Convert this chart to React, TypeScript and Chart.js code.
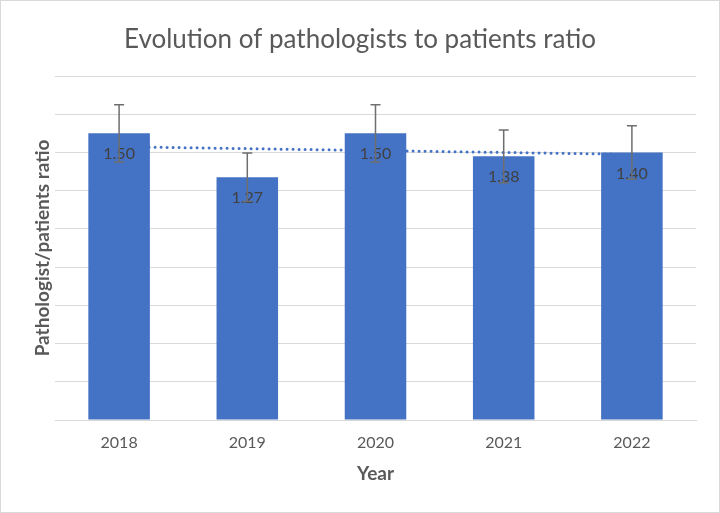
import React, { useEffect, useRef } from "react";
import { Chart, registerables } from "chart.js";

Chart.register(...registerables);

const titleText = "Evolution of pathologists to patients ratio";
const years = ["2018", "2019", "2020", "2021", "2022"];
const ratios = [1.5, 1.27, 1.5, 1.38, 1.4];
const errors = [0.15, 0.127, 0.15, 0.138, 0.14];
const trend = [1.43, 1.42, 1.41, 1.4, 1.39];
const yMin = 0;
const yMax = 1.8;
const yStep = 0.2;

const FONT = "Lato, 'Open Sans', sans-serif";

const overlay = {
  id: "overlay",
  beforeDraw(chart: any) {
    const ctx = chart.ctx;
    ctx.save();
    ctx.fillStyle = "#ffffff";
    ctx.fillRect(0, 0, chart.width, chart.height);
    ctx.strokeStyle = "#d9d9d9";
    ctx.lineWidth = 1;
    ctx.strokeRect(0.5, 0.5, chart.width - 1, chart.height - 1);
    ctx.font = `26px ${FONT}`;
    ctx.fillStyle = "#595959";
    ctx.textAlign = "center";
    ctx.textBaseline = "middle";
    ctx.fillText(titleText, chart.width / 2, 40);
    ctx.restore();
  },
  afterDatasetsDraw(chart: any) {
    const ctx = chart.ctx;
    const y = chart.scales.y;
    const meta = chart.getDatasetMeta(0);
    ctx.save();
    meta.data.forEach((bar: any, i: number) => {
      const x = bar.x;
      ctx.font = `16px ${FONT}`;
      ctx.fillStyle = "#404040";
      ctx.textAlign = "center";
      ctx.textBaseline = "middle";
      ctx.fillText(ratios[i].toFixed(2), x, bar.y + 21);
      const top = y.getPixelForValue(ratios[i] + errors[i]);
      const bot = y.getPixelForValue(ratios[i] - errors[i]);
      ctx.strokeStyle = "#6e6e6e";
      ctx.lineWidth = 1.5;
      ctx.beginPath();
      ctx.moveTo(x, top);
      ctx.lineTo(x, bot);
      ctx.moveTo(x - 5, top);
      ctx.lineTo(x + 5, top);
      ctx.moveTo(x - 5, bot);
      ctx.lineTo(x + 5, bot);
      ctx.stroke();
    });
    ctx.restore();
  },
};

export default function App() {
  const ref = useRef<HTMLCanvasElement | null>(null);
  useEffect(() => {
    document.body.style.margin = "0";
    const chart = new Chart(ref.current as HTMLCanvasElement, {
      type: "bar",
      data: {
        labels: years,
        datasets: [
          {
            type: "bar",
            data: ratios,
            backgroundColor: "#4472C4",
            categoryPercentage: 1,
            barPercentage: 0.48,
            order: 0,
          } as any,
          {
            type: "line",
            data: trend,
            borderColor: "#4472C4",
            borderWidth: 3,
            borderDash: [0, 6],
            borderCapStyle: "round",
            pointRadius: 0,
            fill: false,
            tension: 0,
            order: 1,
          } as any,
        ],
      },
      options: {
        animation: false,
        responsive: false,
        maintainAspectRatio: false,
        layout: { padding: { top: 76, left: 0, right: 24, bottom: 0 } },
        plugins: {
          legend: { display: false },
          tooltip: { enabled: false },
          title: { display: false },
        },
        scales: {
          x: {
            grid: { display: false },
            border: { display: true, color: "#d9d9d9", width: 1 },
            ticks: { color: "#595959", font: { family: FONT, size: 16 }, padding: 5 },
            title: {
              display: true,
              text: "Year",
              color: "#595959",
              font: { family: FONT, size: 19, weight: "bold" },
              padding: { top: 0, bottom: 28 },
            },
            afterFit: (s: any) => {
              s.height = 93;
            },
          },
          y: {
            min: yMin,
            max: yMax,
            ticks: { stepSize: yStep, display: false },
            grid: { color: "#d9d9d9", drawTicks: false },
            border: { display: false },
            title: {
              display: true,
              text: "Pathologist/patients ratio",
              color: "#595959",
              font: { family: FONT, size: 19, weight: "bold" },
              padding: { top: 31, bottom: 0 },
            },
            afterFit: (s: any) => {
              s.width = 55;
            },
          },
        },
      },
      plugins: [overlay],
    });
    return () => chart.destroy();
  }, []);
  return <canvas ref={ref} width={720} height={513} style={{ display: "block" }} />;
}
